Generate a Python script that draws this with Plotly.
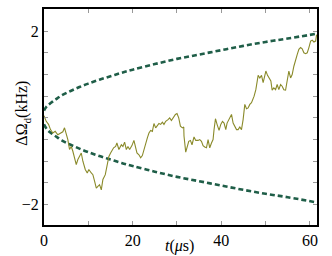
import plotly.graph_objects as go

# random-walk trace (t in µs, ΔΩ_d in kHz)
walk_t = [0.0, 0.50, 1.02, 1.47, 1.99, 2.53, 3.12, 3.66, 4.25, 4.63, 5.02, 5.38, 5.76, 6.15, 6.51, 6.89,
          7.28, 7.64, 8.02, 8.41, 8.77, 9.31, 9.76, 10.12, 10.67, 11.03, 11.41, 11.80, 12.16, 12.54, 12.93,
          13.29, 13.83, 14.28, 14.64, 15.03, 15.71, 16.16, 16.45, 16.90, 17.45, 17.81, 18.19, 18.58, 18.94,
          19.32, 19.84, 20.29, 20.68, 20.97, 21.42, 21.81, 22.19, 22.55, 22.94, 23.32, 23.68, 24.07, 24.45,
          24.81, 25.20, 25.58, 25.94, 26.33, 26.71, 27.07, 27.46, 27.98, 28.36, 28.75, 29.11, 29.65, 30.01,
          30.40, 30.78, 31.23, 31.53, 31.59, 31.98, 32.27, 32.66, 33.04, 33.40, 33.85, 34.24, 34.76, 35.14,
          35.53, 35.89, 36.27, 36.66, 37.02, 37.40, 37.79, 38.15, 38.37, 38.69, 39.05, 39.50, 39.89, 40.27,
          40.63, 41.02, 41.31, 41.76, 42.31, 42.67, 43.05, 43.44, 43.80, 44.18, 44.56, 44.93, 45.31, 45.69,
          46.06, 46.44, 46.82, 47.41, 47.80, 48.09, 48.32, 48.70, 49.08, 49.45, 49.83, 50.06, 50.44, 50.80,
          51.19, 51.48, 51.86, 52.25, 52.61, 52.99, 53.38, 53.74, 54.12, 54.51, 54.87, 55.25, 55.64, 56.00,
          56.38, 56.77, 57.13, 57.51, 57.90, 58.26, 58.64, 59.03, 59.39, 59.77, 60.16, 60.52, 60.90, 61.29,
          61.51]
walk_v = [0.05, -0.08, -0.15, -0.27, -0.35, -0.31, -0.39, -0.35, -0.32, -0.23, -0.35, -0.50, -0.73, -0.66,
          -0.77, -0.92, -1.08, -0.96, -0.89, -0.81, -1.00, -1.19, -1.27, -1.19, -1.27, -1.31, -1.46, -1.62,
          -1.58, -1.54, -1.66, -1.42, -1.31, -1.08, -0.89, -0.81, -0.69, -0.66, -0.58, -0.73, -0.62, -0.66,
          -0.56, -0.73, -0.66, -0.73, -0.64, -0.52, -0.69, -0.81, -0.85, -0.92, -0.87, -0.73, -0.54, -0.46,
          -0.35, -0.29, -0.31, -0.13, -0.23, -0.18, -0.13, -0.15, -0.10, -0.15, -0.08, -0.04, 0.00, -0.06,
          0.00, 0.08, 0.10, 0.00, -0.19, -0.23, -0.21, -0.42, -0.79, -0.67, -0.54, -0.52, -0.62, -0.44, -0.52,
          -0.52, -0.50, -0.54, -0.64, -0.67, -0.69, -0.50, -0.69, -0.58, -0.50, -0.27, -0.02, -0.15, -0.29,
          -0.15, -0.08, -0.12, -0.27, -0.12, -0.04, 0.08, -0.12, -0.19, -0.27, -0.27, -0.21, -0.27, -0.04,
          0.31, 0.21, 0.23, 0.31, 0.35, 0.50, 0.65, 0.88, 0.98, 0.92, 0.98, 0.81, 0.96, 1.08, 0.98, 0.92,
          0.85, 0.64, 0.69, 0.65, 0.77, 0.65, 0.77, 0.73, 0.65, 0.64, 0.85, 1.08, 0.92, 1.00, 1.19, 1.35,
          1.46, 1.58, 1.62, 1.59, 1.50, 1.48, 1.50, 1.62, 1.77, 1.79, 1.75, 1.77, 1.92]

# envelope curves
env_t = [0, 0.5, 1, 2, 3, 4, 6, 8, 10, 12.5, 15, 17.5, 20, 25, 30, 35, 40, 45, 50, 55, 61.6]
env_upper = [0.17, 0.25, 0.30, 0.38, 0.45, 0.52, 0.62, 0.71, 0.79, 0.88, 0.96, 1.04, 1.11, 1.24, 1.36,
             1.46, 1.56, 1.66, 1.75, 1.83, 1.94]
env_lower = [-0.15, -0.24, -0.30, -0.38, -0.45, -0.52, -0.62, -0.71, -0.79, -0.88, -0.96, -1.04, -1.11,
             -1.24, -1.36, -1.46, -1.56, -1.66, -1.75, -1.83, -1.95]

x_tickvals = [0, 10, 20, 30, 40, 50, 60]
x_ticktext = ["0", "", "20", "", "40", "", "60"]
y_tickvals = [-2, -1.5, -1, -0.5, 0, 0.5, 1, 1.5, 2]
y_ticktext = ["\u22122", "", "", "", "", "", "", "", "2"]

DASH_COLOR = "#1f5e48"
WALK_COLOR = "#8a8a2a"
FONT = "Liberation Serif, Times New Roman, serif"

fig = go.Figure()
for yv in (env_upper, env_lower):
    fig.add_trace(go.Scatter(x=env_t, y=yv, mode="lines", line=dict(color=DASH_COLOR, width=2.6,
                  dash="5px,3px", shape="spline"), hoverinfo="skip", showlegend=False))
fig.add_trace(go.Scatter(x=walk_t, y=walk_v, mode="lines", line=dict(color=WALK_COLOR, width=1.1),
                         showlegend=False))

axis_common = dict(showline=True, linecolor="black", linewidth=2.2, mirror="ticks", ticks="inside",
                   ticklen=4, tickwidth=1, tickcolor="#999999", showgrid=False, zeroline=False,
                   tickfont=dict(family=FONT, size=16, color="black"))
fig.update_xaxes(range=[0, 61.6], tickmode="array", tickvals=x_tickvals, ticktext=x_ticktext,
                 ticklabelstandoff=0, **axis_common)
fig.update_yaxes(range=[-2.47, 2.51], tickmode="array", tickvals=y_tickvals, ticktext=y_ticktext,
                 **axis_common)

fig.add_annotation(text="\u0394\u03a9<sub>d</sub>(kHz)", xref="paper", yref="paper", x=-0.077, y=0.52,
                   textangle=-90, showarrow=False, font=dict(family=FONT, size=16, color="black"),
                   xanchor="center", yanchor="middle")
fig.add_annotation(text="<i>t</i>(<i>\u03bc</i>s)", xref="paper", yref="paper", x=0.495, y=-0.045,
                   showarrow=False, font=dict(family=FONT, size=16, color="black"),
                   xanchor="center", yanchor="top")

fig.update_layout(width=332, height=256, margin=dict(l=44, r=15, t=9, b=31, autoexpand=False),
                  plot_bgcolor="white", paper_bgcolor="white", font=dict(family=FONT))
fig.write_html("out.html", config={"displayModeBar": False},
               post_script="document.body.style.margin='0';")
